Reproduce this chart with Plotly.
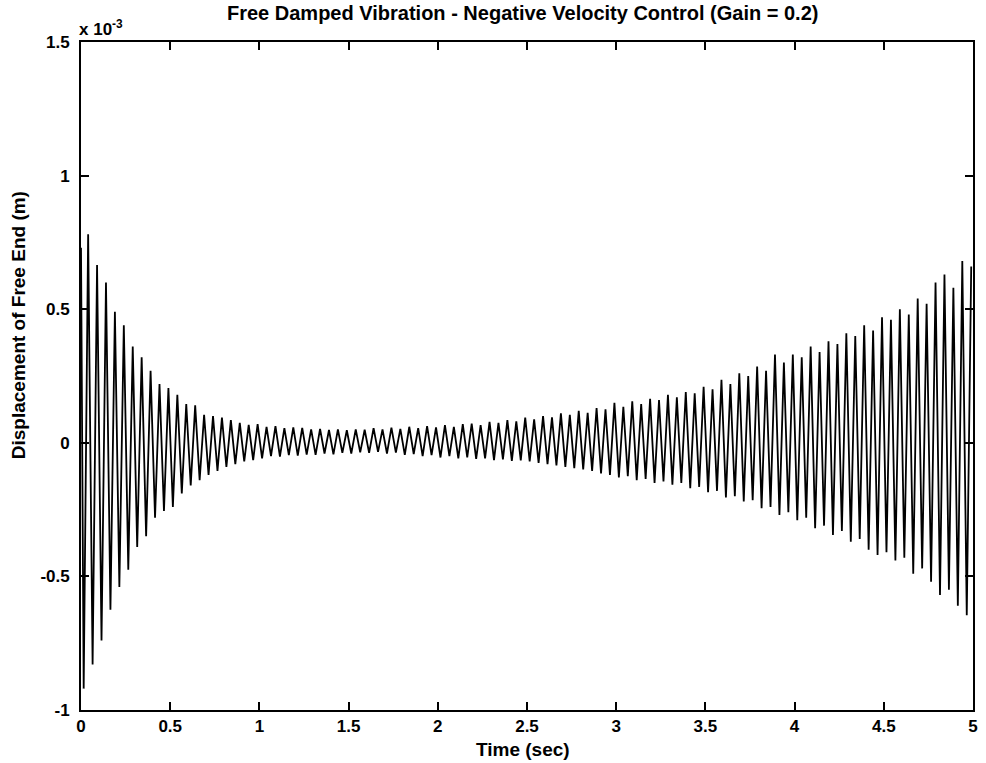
import plotly.graph_objects as go

# Values (displacement in units of 1e-3 m)
period = 0.05            # s, one oscillation cycle
start_time = 0.0
start_value = 0.73
trough_t0 = 0.015        # time of first trough
peak_t0 = 0.04           # time of first peak

peaks = [0.78, 0.665, 0.60, 0.49, 0.44, 0.36, 0.32, 0.27, 0.22, 0.205,
         0.18, 0.145, 0.14, 0.105, 0.10, 0.094, 0.085, 0.075, 0.067, 0.07,
         0.06, 0.062, 0.055, 0.058, 0.056, 0.05, 0.052, 0.048, 0.05, 0.047,
         0.05, 0.049, 0.055, 0.05, 0.057, 0.052, 0.06, 0.055, 0.062, 0.058,
         0.066, 0.06, 0.07, 0.072, 0.066, 0.078, 0.075, 0.085, 0.08, 0.094,
         0.088, 0.10, 0.095, 0.11, 0.105, 0.12, 0.112, 0.13, 0.125, 0.15,
         0.135, 0.155, 0.145, 0.165, 0.16, 0.18, 0.17, 0.19, 0.185, 0.21,
         0.20, 0.236, 0.22, 0.26, 0.25, 0.285, 0.27, 0.33, 0.30, 0.33,
         0.32, 0.36, 0.34, 0.38, 0.37, 0.41, 0.40, 0.44, 0.42, 0.47,
         0.46, 0.50, 0.48, 0.54, 0.52, 0.60, 0.63, 0.58, 0.68, 0.66]

troughs = [-0.92, -0.83, -0.74, -0.625, -0.54, -0.475, -0.39, -0.35, -0.28, -0.255,
           -0.24, -0.19, -0.16, -0.14, -0.12, -0.105, -0.09, -0.08, -0.07, -0.065,
           -0.058, -0.05, -0.052, -0.046, -0.048, -0.044, -0.045, -0.04, -0.043, -0.038,
           -0.04, -0.036, -0.038, -0.034, -0.04, -0.037, -0.045, -0.042, -0.05, -0.046,
           -0.055, -0.05, -0.058, -0.055, -0.06, -0.058, -0.065, -0.062, -0.068, -0.066,
           -0.07, -0.075, -0.08, -0.085, -0.09, -0.095, -0.10, -0.105, -0.115, -0.12,
           -0.13, -0.125, -0.14, -0.135, -0.15, -0.145, -0.157, -0.15, -0.17, -0.165,
           -0.185, -0.18, -0.205, -0.20, -0.22, -0.215, -0.245, -0.24, -0.27, -0.26,
           -0.29, -0.28, -0.32, -0.31, -0.345, -0.33, -0.37, -0.36, -0.40, -0.42,
           -0.41, -0.44, -0.43, -0.49, -0.47, -0.52, -0.57, -0.55, -0.61, -0.645]

x_ticks = [0, 0.5, 1, 1.5, 2, 2.5, 3, 3.5, 4, 4.5, 5]
x_tick_labels = ["0", "0.5", "1", "1.5", "2", "2.5", "3", "3.5", "4", "4.5", "5"]
y_ticks = [-1, -0.5, 0, 0.5, 1, 1.5]
y_tick_labels = ["-1", "-0.5", "0", "0.5", "1", "1.5"]

title_text = "Free Damped Vibration - Negative Velocity Control (Gain = 0.2)"
x_title = "Time (sec)"
y_title = "Displacement of Free End (m)"
scale_text = "x 10<sup>-3</sup>"

# Build the alternating trough/peak sequence
t = [start_time]
y = [start_value]
for i in range(len(peaks)):
    t.append(trough_t0 + i * period)
    y.append(troughs[i])
    t.append(peak_t0 + i * period)
    y.append(peaks[i])

font_family = "Liberation Sans, Arial, sans-serif"
title_font = dict(family=font_family, size=20, color="black", weight="bold")
label_font = dict(family=font_family, size=19, color="black", weight="bold")

fig = go.Figure()
fig.add_trace(go.Scatter(x=t, y=y, mode="lines",
                         line=dict(color="black", width=1.8),
                         showlegend=False, hoverinfo="skip"))

axis_common = dict(showgrid=False, zeroline=False, showline=True,
                   linecolor="black", linewidth=1.8, mirror="ticks",
                   ticks="inside", ticklen=8, tickwidth=1.5, tickcolor="black",
                   tickfont=dict(family=font_family, size=17, color="black", weight="bold"))

fig.update_layout(
    width=986, height=763,
    paper_bgcolor="white", plot_bgcolor="white",
    margin=dict(l=81, r=8, t=42, b=53),
    xaxis=dict(range=[0, 5], tickvals=x_ticks, ticktext=x_tick_labels,
               ticklabelstandoff=0, **axis_common),
    yaxis=dict(range=[-1, 1.5], tickvals=y_ticks, ticktext=y_tick_labels,
               ticklabelstandoff=6, **axis_common),
    annotations=[
        dict(text=title_text, xref="paper", yref="paper", x=0.495, y=1.0,
             xanchor="center", yanchor="middle", yshift=29, showarrow=False,
             font=title_font),
        dict(text=x_title, xref="paper", yref="paper", x=0.495, y=0.0,
             xanchor="center", yanchor="middle", yshift=-39, showarrow=False,
             font=label_font),
        dict(text=y_title, xref="paper", yref="paper", x=0.0, y=0.576,
             xanchor="center", yanchor="middle", xshift=-63, textangle=-90,
             showarrow=False, font=label_font),
        dict(text=scale_text, xref="paper", yref="paper", x=0.0, y=1.0,
             xanchor="left", yanchor="bottom", yshift=1, xshift=-4, showarrow=False,
             font=dict(family=font_family, size=17, color="black", weight="bold")),
    ],
)

fig.write_html("out.html", config={"displayModeBar": False},
               post_script="document.body.style.margin='0';")
